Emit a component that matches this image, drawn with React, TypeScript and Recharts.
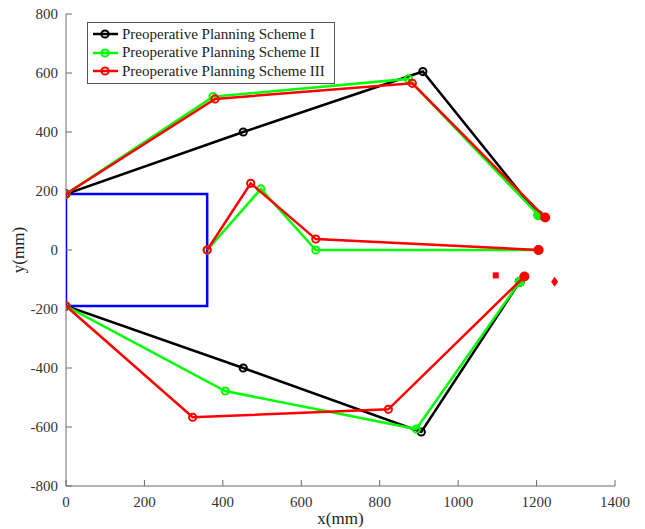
import { ScatterChart, Scatter, XAxis, YAxis, Legend } from "recharts"

const FONT = '"Liberation Serif", "Times New Roman", serif'
const AXIS = "#6a6a6a"

// axis ticks
const xTicks = [0, 200, 400, 600, 800, 1000, 1200, 1400]
const yTicks = [-800, -600, -400, -200, 0, 200, 400, 600, 800]

// the blue rectangle (body outline)
const boxOutline = [
    { x: 0, y: 190 }, { x: 360, y: 190 }, { x: 360, y: -190 }, { x: 0, y: -190 }, { x: 0, y: 190 },
]

// Scheme I (black)
const s1Upper = [{ x: 0, y: 190 }, { x: 452, y: 400 }, { x: 910, y: 605 }, { x: 1205, y: 118 }]
const s1Lower = [{ x: 0, y: -190 }, { x: 452, y: -400 }, { x: 906, y: -617 }, { x: 1157, y: -108 }]

// Scheme II (green)
const s2Upper = [{ x: 0, y: 190 }, { x: 375, y: 520 }, { x: 873, y: 580 }, { x: 1205, y: 118 }]
const s2Middle = [{ x: 360, y: 0 }, { x: 497, y: 207 }, { x: 637, y: 0 }, { x: 1205, y: 0 }]
const s2Lower = [{ x: 0, y: -190 }, { x: 406, y: -478 }, { x: 893, y: -607 }, { x: 1157, y: -108 }]

// Scheme III (red)
const s3Upper = [{ x: 0, y: 190 }, { x: 380, y: 512 }, { x: 883, y: 565 }, { x: 1222, y: 110 }]
const s3Middle = [{ x: 360, y: 0 }, { x: 471, y: 226 }, { x: 637, y: 37 }, { x: 1205, y: 0 }]
const s3Lower = [{ x: 0, y: -190 }, { x: 323, y: -567 }, { x: 822, y: -540 }, { x: 1169, y: -90 }]

// loose red markers
const squarePts = [{ x: 1096, y: -86 }]
const diamondPts = [{ x: 1246, y: -108 }]

const legendItems = [
    { label: "Preoperative Planning Scheme I", color: "#000000" },
    { label: "Preoperative Planning Scheme II", color: "#00ff00" },
    { label: "Preoperative Planning Scheme III", color: "#ff0000" },
]

// open circle on every point, filled bigger dot on the last one
function pointShape(color: string, pts: { x: number; y: number }[]) {
    const last = pts[pts.length - 1]
    return (p: any) => {
        const isEnd = p.payload && p.payload.x === last.x && p.payload.y === last.y
        if (isEnd) return <circle cx={p.cx} cy={p.cy} r={5} fill={color} />
        return <circle cx={p.cx} cy={p.cy} r={3.6} fill="none" stroke={color} strokeWidth={2} />
    }
}

const noShape = () => <g />

function BottomTick({ x, y, payload }: any) {
    return (
        <g>
            <line x1={x} x2={x} y1={y} y2={y - 6} stroke={AXIS} />
            <text x={x} y={y + 21} textAnchor="middle" fontFamily={FONT} fontSize={15} fill="#333">{payload.value}</text>
        </g>
    )
}
function TopTick({ x, y }: any) {
    return <line x1={x} x2={x} y1={y} y2={y + 6} stroke={AXIS} />
}
function LeftTick({ x, y, payload }: any) {
    return (
        <g>
            <line x1={x} x2={x + 6} y1={y} y2={y} stroke={AXIS} />
            <text x={x - 8} y={y + 5} textAnchor="end" fontFamily={FONT} fontSize={15} fill="#333">{payload.value}</text>
        </g>
    )
}
function RightTick({ x, y }: any) {
    return <line x1={x} x2={x - 6} y1={y} y2={y} stroke={AXIS} />
}

function LegendBox() {
    return (
        <div style={{ border: "1px solid #555", background: "#fff", padding: "2px 4px 2px 4px", fontFamily: FONT, fontSize: 15, color: "#222" }}>
            {legendItems.map((it) => (
                <div key={it.label} style={{ display: "flex", alignItems: "center", height: 18.5, whiteSpace: "nowrap" }}>
                    <svg width={28} height={14} style={{ marginRight: 2 }}>
                        <line x1={1} x2={26} y1={7} y2={7} stroke={it.color} strokeWidth={2.5} />
                        <circle cx={13} cy={7} r={3.6} fill="none" stroke={it.color} strokeWidth={2} />
                    </svg>
                    <span>{it.label}</span>
                </div>
            ))}
        </div>
    )
}

export default function App() {
    const lineStyle = (c: string) => ({ stroke: c, strokeWidth: 2.5 })
    return (
        <div style={{ position: "absolute", left: 0, top: 0, background: "#fff" }}>
            <ScatterChart width={645} height={529} margin={{ top: 14, right: 30, bottom: 0, left: 0 }}>
                <XAxis
                    type="number" dataKey="x" domain={[0, 1400]} ticks={xTicks} height={43}
                    axisLine={{ stroke: AXIS }} tickLine={false} tickSize={0} tickMargin={0} tick={<BottomTick />}
                    allowDataOverflow
                    label={{ value: "x(mm)", position: "insideBottom", offset: 5, style: { fontFamily: FONT, fontSize: 17, fill: "#222" } }}
                />
                <XAxis
                    xAxisId="top" orientation="top" type="number" dataKey="x" domain={[0, 1400]} ticks={xTicks} height={0}
                    axisLine={{ stroke: AXIS }} tickLine={false} tickSize={0} tickMargin={0} tick={<TopTick />} allowDataOverflow
                />
                <YAxis
                    type="number" dataKey="y" domain={[-800, 800]} ticks={yTicks} width={66}
                    axisLine={{ stroke: AXIS }} tickLine={false} tickSize={0} tickMargin={0} tick={<LeftTick />}
                    allowDataOverflow
                    label={{ value: "y(mm)", angle: -90, position: "insideLeft", offset: 18, style: { fontFamily: FONT, fontSize: 17, fill: "#222", textAnchor: "middle" } }}
                />
                <YAxis
                    yAxisId="right" orientation="right" type="number" dataKey="y" domain={[-800, 800]} ticks={yTicks} width={0}
                    axisLine={{ stroke: AXIS }} tickLine={false} tickSize={0} tickMargin={0} tick={<RightTick />} allowDataOverflow
                />
                <Legend
                    layout="horizontal" verticalAlign="middle" align="center"
                    wrapperStyle={{ left: 87, top: 22, width: 248, height: "auto" }}
                    content={() => <LegendBox />}
                />

                <Scatter data={boxOutline} line={lineStyle("#0000ff")} shape={noShape} isAnimationActive={false} />

                <Scatter data={s1Upper} line={lineStyle("#000000")} shape={pointShape("#000000", s1Upper)} isAnimationActive={false} />
                <Scatter data={s1Lower} line={lineStyle("#000000")} shape={pointShape("#000000", s1Lower)} isAnimationActive={false} />

                <Scatter data={s2Upper} line={lineStyle("#00ff00")} shape={pointShape("#00ff00", s2Upper)} isAnimationActive={false} />
                <Scatter data={s2Middle} line={lineStyle("#00ff00")} shape={pointShape("#00ff00", s2Middle)} isAnimationActive={false} />
                <Scatter data={s2Lower} line={lineStyle("#00ff00")} shape={pointShape("#00ff00", s2Lower)} isAnimationActive={false} />

                <Scatter data={s3Upper} line={lineStyle("#ff0000")} shape={pointShape("#ff0000", s3Upper)} isAnimationActive={false} />
                <Scatter data={s3Middle} line={lineStyle("#ff0000")} shape={pointShape("#ff0000", s3Middle)} isAnimationActive={false} />
                <Scatter data={s3Lower} line={lineStyle("#ff0000")} shape={pointShape("#ff0000", s3Lower)} isAnimationActive={false} />

                <Scatter
                    data={squarePts} isAnimationActive={false}
                    shape={(p: any) => <rect x={p.cx - 3} y={p.cy - 3} width={6} height={6} fill="#ff0000" />}
                />
                <Scatter
                    data={diamondPts} isAnimationActive={false}
                    shape={(p: any) => <polygon points={`${p.cx},${p.cy - 5} ${p.cx + 3.5},${p.cy} ${p.cx},${p.cy + 5} ${p.cx - 3.5},${p.cy}`} fill="#ff0000" />}
                />
            </ScatterChart>
        </div>
    )
}
